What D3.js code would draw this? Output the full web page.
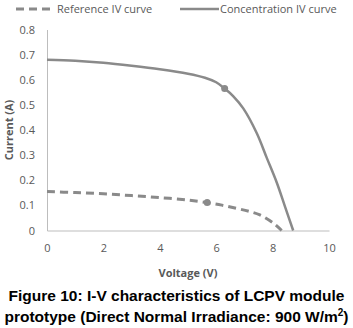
<!DOCTYPE html>
<html>
<head>
  <meta charset="utf-8">
  <title>I-V curves</title>
  <script src="https://d3js.org/d3.v7.min.js"></script>
  <style>
    body { margin: 0; background: #fff; }
  </style>
</head>
<body>
  <script>
    // data
    var refVoltage = [0, 1, 2, 3, 4, 5, 5.68, 6.2, 6.73, 7.2, 7.55, 8.03, 8.32];
    var refCurrent = [0.155, 0.151, 0.146, 0.139, 0.131, 0.121, 0.111, 0.101, 0.088, 0.075, 0.062, 0.029, 0];
    var concVoltage = [0, 1, 2, 3, 4, 5, 5.6, 6, 6.3, 6.6, 6.96, 7.44, 7.79, 8.15, 8.44, 8.73];
    var concCurrent = [0.68, 0.676, 0.668, 0.656, 0.642, 0.624, 0.608, 0.590, 0.565, 0.535, 0.486, 0.387, 0.29, 0.19, 0.095, 0];
    var refMpp = [5.68, 0.111];
    var concMpp = [6.3, 0.565];
    var xTicks = [0, 2, 4, 6, 8, 10];
    var yTicks = [0, 0.1, 0.2, 0.3, 0.4, 0.5, 0.6, 0.7, 0.8];
    var seriesNames = ["Reference IV curve", "Concentration IV curve"];
    var captionLines = ["Figure 10: I-V characteristics of LCPV module", "prototype (Direct Normal Irradiance: 900 W/m"];

    var width = 353, height = 328;
    var grey = "#8a8a8a", textGrey = "#595959";

    var svg = d3.select("body").append("svg").attr("width", width).attr("height", height);

    var x = d3.scaleLinear().domain([0, 10]).range([47, 329]);
    var y = d3.scaleLinear().domain([0, 0.8]).range([230.5, 29.5]);

    // axes
    var xAxis = svg.append("g")
      .attr("transform", "translate(0," + y(0) + ")")
      .call(d3.axisBottom(x).tickValues(xTicks).tickSize(0).tickPadding(14).tickFormat(d3.format("d")));
    var yAxis = svg.append("g")
      .attr("transform", "translate(" + x(0) + ",0)")
      .call(d3.axisLeft(y).tickValues(yTicks).tickSize(0).tickPadding(12).tickFormat(d => d === 0 ? "0" : d3.format(".1f")(d)));

    [xAxis, yAxis].forEach(function (g) {
      g.select(".domain").attr("stroke", "#bdbdbd").attr("stroke-width", 1);
      g.selectAll("text").attr("fill", textGrey).style("font-family", "'Open Sans', sans-serif").style("font-size", "11px");
    });

    // curves
    var line = d3.line().x(d => x(d[0])).y(d => y(d[1])).curve(d3.curveCatmullRom.alpha(0.5));
    var refData = refVoltage.map((v, i) => [v, refCurrent[i]]);
    var concData = concVoltage.map((v, i) => [v, concCurrent[i]]);

    svg.append("path").datum(refData).attr("d", line)
      .attr("fill", "none").attr("stroke", grey).attr("stroke-width", 3).attr("stroke-dasharray", "8,5");
    svg.append("path").datum(concData).attr("d", line)
      .attr("fill", "none").attr("stroke", grey).attr("stroke-width", 2.5);

    svg.selectAll("circle.mpp").data([refMpp, concMpp]).enter().append("circle")
      .attr("cx", d => x(d[0])).attr("cy", d => y(d[1])).attr("r", 3.5).attr("fill", grey);

    // legend
    var legend = svg.append("g").style("font-family", "'Open Sans', sans-serif").style("font-size", "11px");
    legend.append("line").attr("x1", 16).attr("x2", 51).attr("y1", 9).attr("y2", 9)
      .attr("stroke", grey).attr("stroke-width", 3).attr("stroke-dasharray", "8,5");
    legend.append("text").attr("x", 57).attr("y", 13).attr("fill", textGrey).text(seriesNames[0]);
    legend.append("line").attr("x1", 180).attr("x2", 219).attr("y1", 9).attr("y2", 9)
      .attr("stroke", grey).attr("stroke-width", 2.5);
    legend.append("text").attr("x", 220).attr("y", 13).attr("fill", textGrey).text(seriesNames[1]);

    // axis titles
    svg.append("text").attr("x", 188).attr("y", 277).attr("text-anchor", "middle")
      .attr("fill", textGrey).style("font-family", "'Open Sans', sans-serif").style("font-size", "11px").style("font-weight", "bold")
      .text("Voltage (V)");
    svg.append("text").attr("transform", "translate(13,130) rotate(-90)").attr("text-anchor", "middle")
      .attr("fill", textGrey).style("font-family", "'Open Sans', sans-serif").style("font-size", "11px").style("font-weight", "bold")
      .text("Current (A)");

    // caption
    var cap = svg.append("g").style("font-family", "'Liberation Sans', Arial, sans-serif").style("font-size", "15.5px").style("font-weight", "bold").attr("fill", "#000");
    cap.append("text").attr("x", 176.5).attr("y", 301).attr("text-anchor", "middle").text(captionLines[0]);
    var t2 = cap.append("text").attr("x", 176.5).attr("y", 322).attr("text-anchor", "middle");
    t2.append("tspan").text(captionLines[1]);
    t2.append("tspan").attr("dy", -6).style("font-size", "10px").text("2");
    t2.append("tspan").attr("dy", 6).text(")");
  </script>
</body>
</html>
